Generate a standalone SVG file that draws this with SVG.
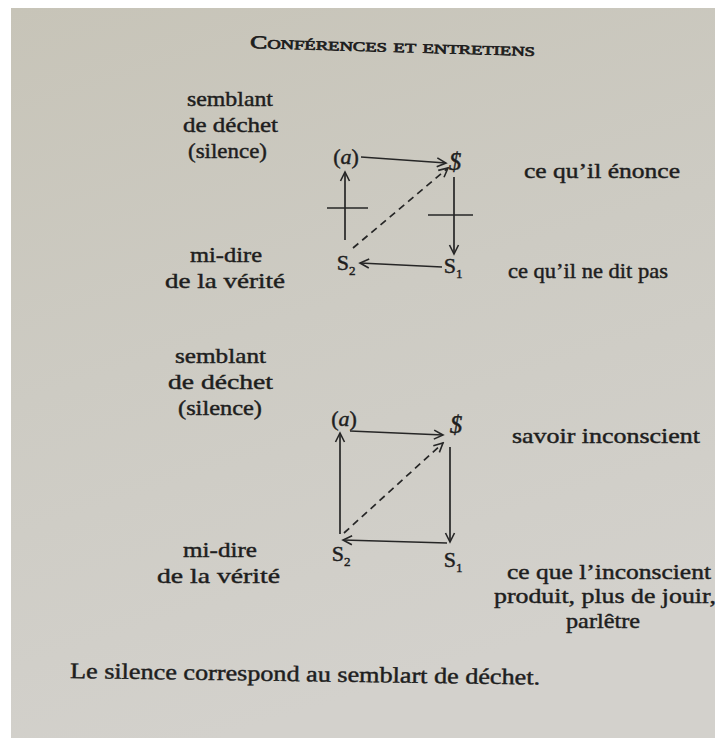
<svg xmlns="http://www.w3.org/2000/svg" width="715" height="738" viewBox="0 0 715 738">
<defs>
<linearGradient id="page" x1="0" y1="0" x2="0.3" y2="1">
<stop offset="0" stop-color="#c7c4b8"/>
<stop offset="0.5" stop-color="#cdcbc3"/>
<stop offset="1" stop-color="#d3d1cc"/>
</linearGradient>
<marker id="ah" markerWidth="12" markerHeight="12" refX="10" refY="6" orient="auto" markerUnits="userSpaceOnUse">
<path d="M1,1.5 L10,6 L1,10.5" fill="none" stroke="#262626" stroke-width="1.6"/>
</marker>
<style>
text{font-family:"Liberation Serif","DejaVu Serif","Times New Roman",serif;fill:#1e1e1e;stroke:#1e1e1e;stroke-width:0.45px}
.t{font-size:22px}
.m{text-anchor:middle}
.sym{font-size:22px}
.bs{font-size:25px;font-style:italic}
.sub{font-size:13px}
.ln{stroke:#262626;stroke-width:1.7;fill:none}
.ar{stroke:#262626;stroke-width:1.7;fill:none;marker-end:url(#ah)}
.ds{stroke:#262626;stroke-width:1.7;fill:none;stroke-dasharray:7,5;marker-end:url(#ah)}
</style>
</defs>
<rect width="715" height="738" fill="#ffffff"/>
<rect x="11" y="8" width="704" height="730" fill="url(#page)"/>

<g id="header">
<text x="250" y="48" font-size="18" font-variant="small-caps" textLength="285" lengthAdjust="spacingAndGlyphs" transform="rotate(1.6 250 48)" style="stroke-width:0.7px">Conférences et entretiens</text>
</g>

<g id="labels1">
<text class="t" x="187" y="106" textLength="86" lengthAdjust="spacingAndGlyphs">semblant</text>
<text class="t" x="183" y="132" textLength="95" lengthAdjust="spacingAndGlyphs">de déchet</text>
<text class="t" x="188" y="158" textLength="79" lengthAdjust="spacingAndGlyphs">(silence)</text>
<text class="t" x="190" y="262" textLength="72" lengthAdjust="spacingAndGlyphs">mi-dire</text>
<text class="t" x="165" y="288" textLength="120" lengthAdjust="spacingAndGlyphs">de la vérité</text>
<text class="t" x="524" y="178" textLength="156" lengthAdjust="spacingAndGlyphs">ce qu’il énonce</text>
<text class="t" x="508" y="278" textLength="160" lengthAdjust="spacingAndGlyphs">ce qu’il ne dit pas</text>
</g>

<g id="diagram1">
<g id="d1-a"><text class="sym m" x="346" y="164" font-style="italic"><tspan font-style="normal">(</tspan>a<tspan font-style="normal">)</tspan></text></g>
<g id="d1-S"><text class="bs m" x="455" y="170">$</text></g>
<g id="d1-S2"><text class="sym m" x="346" y="270">S<tspan class="sub" dy="5">2</tspan></text></g>
<g id="d1-S1"><text class="sym m" x="453" y="273">S<tspan class="sub" dy="5">1</tspan></text></g>
</g>
<g id="connectors1">
<line class="ar" x1="361" y1="157" x2="446" y2="163"/>
<line class="ar" x1="345" y1="240" x2="345" y2="172"/>
<line class="ln" x1="327" y1="208" x2="368" y2="208"/>
<line class="ar" x1="454" y1="177" x2="454" y2="254"/>
<line class="ln" x1="428" y1="215" x2="473" y2="215"/>
<line class="ar" x1="442" y1="267" x2="360" y2="263"/>
<line class="ds" x1="353" y1="248" x2="448" y2="168"/>
</g>

<g id="labels2">
<text class="t" x="175" y="363" textLength="91" lengthAdjust="spacingAndGlyphs">semblant</text>
<text class="t" x="168" y="389" textLength="105" lengthAdjust="spacingAndGlyphs">de déchet</text>
<text class="t" x="178" y="415" textLength="84" lengthAdjust="spacingAndGlyphs">(silence)</text>
<text class="t" x="183" y="557" textLength="74" lengthAdjust="spacingAndGlyphs">mi-dire</text>
<text class="t" x="157" y="583" textLength="123" lengthAdjust="spacingAndGlyphs">de la vérité</text>
<text class="t" x="512" y="443" textLength="188" lengthAdjust="spacingAndGlyphs">savoir inconscient</text>
<text class="t" x="507" y="579" textLength="204" lengthAdjust="spacingAndGlyphs">ce que l’inconscient</text>
<text class="t" x="494" y="603" textLength="222" lengthAdjust="spacingAndGlyphs">produit, plus de jouir,</text>
<text class="t" x="566" y="628" textLength="74" lengthAdjust="spacingAndGlyphs">parlêtre</text>
</g>

<g id="diagram2">
<g id="d2-a"><text class="sym m" x="344" y="426" font-style="italic"><tspan font-style="normal">(</tspan>a<tspan font-style="normal">)</tspan></text></g>
<g id="d2-S"><text class="bs m" x="456" y="433">$</text></g>
<g id="d2-S2"><text class="sym m" x="341" y="561">S<tspan class="sub" dy="5">2</tspan></text></g>
<g id="d2-S1"><text class="sym m" x="453" y="567">S<tspan class="sub" dy="5">1</tspan></text></g>
</g>
<g id="connectors2">
<line class="ar" x1="350" y1="431" x2="443" y2="435"/>
<line class="ar" x1="340" y1="534" x2="340" y2="433"/>
<line class="ar" x1="450" y1="447" x2="450" y2="542"/>
<line class="ar" x1="447" y1="543" x2="343" y2="540"/>
<line class="ds" x1="344" y1="533" x2="443" y2="443"/>
</g>

<g id="footer">
<text class="t" x="70" y="678" textLength="470" lengthAdjust="spacingAndGlyphs" transform="rotate(0.8 70 678)">Le silence correspond au semblart de déchet.</text>
</g>
</svg>
